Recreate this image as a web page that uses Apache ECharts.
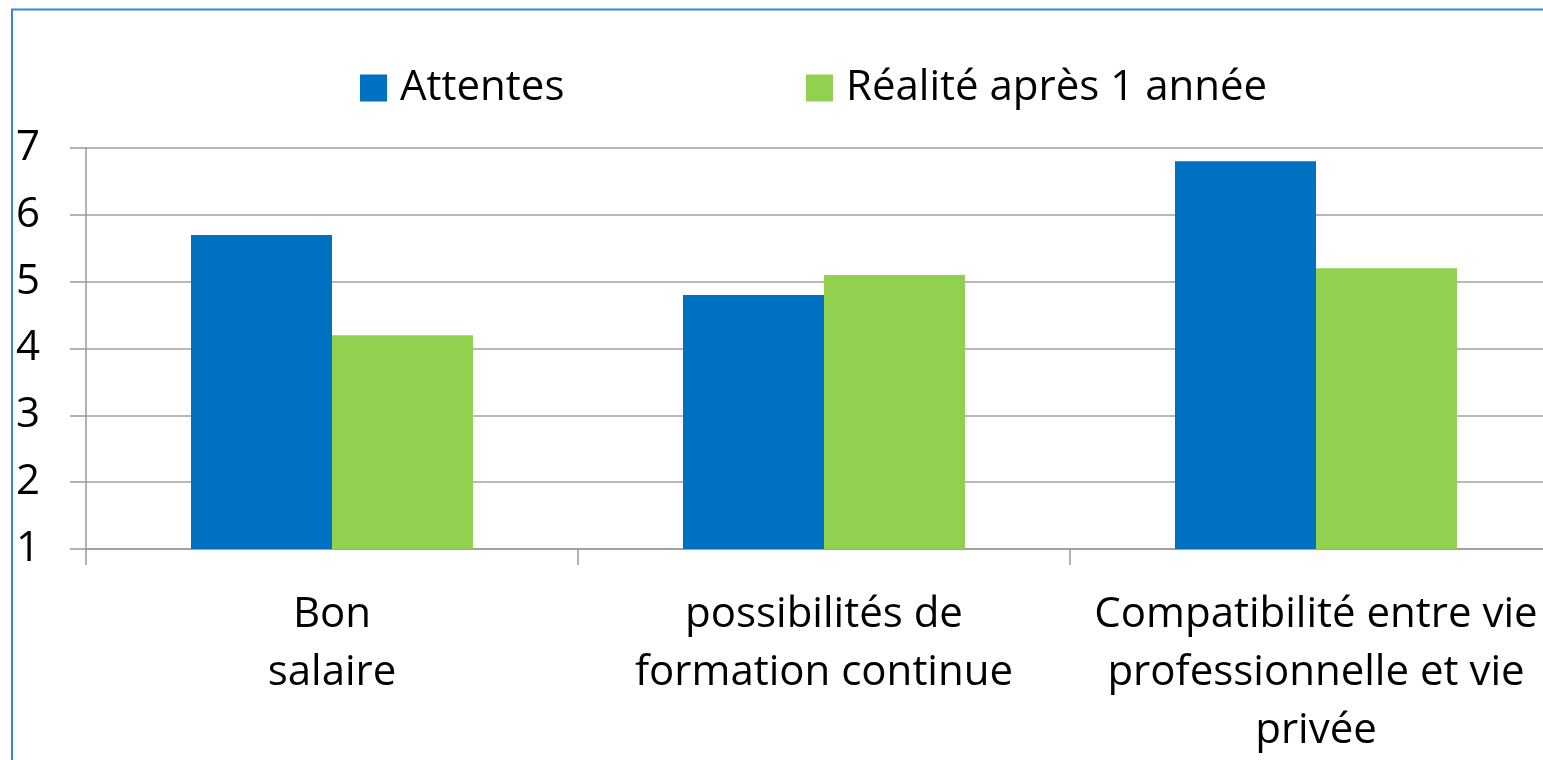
<!DOCTYPE html>
<html>
<head>
<meta charset="utf-8">
<script src="https://cdn.jsdelivr.net/npm/echarts@6/dist/echarts.min.js"></script>
<style>
html,body{margin:0;padding:0;background:#fff;width:1543px;height:760px;overflow:hidden;}
#chart{width:1580px;height:760px;}
</style>
</head>
<body>
<div id="chart"></div>
<script>
const categories = ["Bon\nsalaire", "possibilités de\nformation continue", "Compatibilité entre vie\nprofessionnelle et vie\nprivée"];
const seriesNames = ["Attentes", "Réalité après 1 année"];
const attentes = [5.7, 4.8, 6.8];
const realite = [4.2, 5.1, 5.2];
const yTicks = [1, 2, 3, 4, 5, 6, 7];

const FONT = "'Open Sans', sans-serif";
const chart = echarts.init(document.getElementById('chart'), null, {renderer: 'canvas'});
chart.setOption({
  animation: false,
  backgroundColor: '#ffffff',
  graphic: [{
    type: 'polyline',
    shape: {points: [[12, 780], [12, 9.5], [1580, 9.5]]},
    style: {stroke: '#3a86d6', lineWidth: 2, fill: null},
    z: 10
  }],
  legend: [{
    data: [seriesNames[0]],
    left: 355, top: 62,
    itemWidth: 27, itemHeight: 27,
    icon: 'rect',
    textStyle: {fontFamily: FONT, fontSize: 42, color: '#000', padding: [0, 0, 0, 8]}
  }, {
    data: [seriesNames[1]],
    left: 801, top: 62,
    itemWidth: 27, itemHeight: 27,
    icon: 'rect',
    textStyle: {fontFamily: FONT, fontSize: 42, color: '#000', padding: [0, 0, 0, 8]}
  }],
  grid: {left: 86, top: 148, width: 1476, height: 404, containLabel: false},
  xAxis: {
    type: 'category',
    data: categories,
    axisLine: {show: true, lineStyle: {color: '#999', width: 1.5}},
    axisTick: {show: true, length: 16, lineStyle: {color: '#999', width: 1.5}},
    axisLabel: {fontFamily: FONT, fontSize: 42, color: '#000', margin: 37, lineHeight: 58, interval: 0, align: 'center'}
  },
  yAxis: {
    type: 'value',
    min: 1, max: 7, interval: 1,
    axisLine: {show: true, lineStyle: {color: '#999', width: 1.5}},
    axisTick: {show: true, length: 16, lineStyle: {color: '#999', width: 1.5}},
    splitLine: {show: true, lineStyle: {color: '#a0a0a0', width: 1.5}},
    axisLabel: {
      fontFamily: FONT, fontSize: 42, color: '#000', align: 'left', margin: 70,
      formatter: v => yTicks.includes(v) ? String(v) : ''
    }
  },
  series: [{
    name: seriesNames[0], type: 'bar', data: attentes,
    barWidth: 141, barGap: '0%',
    itemStyle: {color: '#0070c0'}
  }, {
    name: seriesNames[1], type: 'bar', data: realite,
    barWidth: 141, barGap: '0%',
    itemStyle: {color: '#92d050'}
  }]
});
</script>
</body>
</html>
